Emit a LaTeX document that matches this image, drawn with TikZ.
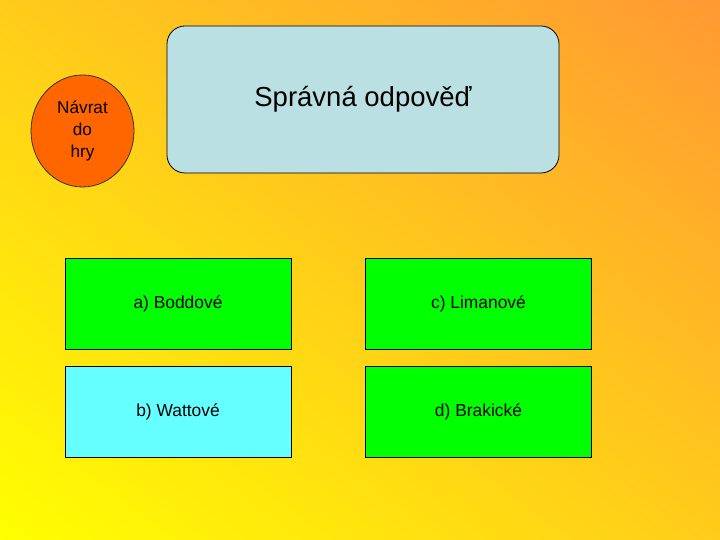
\documentclass[tikz,border=0pt]{standalone}
\usepackage{fontspec}
\setmainfont{Liberation Sans}
\usetikzlibrary{shapes.geometric,shadings}
\definecolor{bgTL}{HTML}{FFCC1A}
\definecolor{bgTR}{HTML}{FF9933}
\definecolor{bgBL}{HTML}{FFFF00}
\definecolor{bgBR}{HTML}{FFCC1A}
\definecolor{titlefill}{HTML}{BBE0E3}
\definecolor{greenfill}{HTML}{00FF00}
\definecolor{cyanfill}{HTML}{66FFFF}
\definecolor{orangefill}{HTML}{FF6600}
\tikzset{
  answerbox/.style={draw=black, line width=0.8pt, minimum width=226pt, minimum height=91pt, inner sep=0pt, font=\fontsize{17.4}{20}\selectfont},
}
\begin{document}
\begin{tikzpicture}[x=1pt,y=1pt]
\useasboundingbox (0,0) rectangle (720,540);
\shade[upper left=bgTL, upper right=bgTR, lower left=bgBL, lower right=bgBR] (0,0) rectangle (720,540);
\node[ellipse, draw=black!80, line width=0.8pt, fill=orangefill, minimum width=103pt, minimum height=112pt, inner sep=0pt, align=center, font=\fontsize{17.2}{22}\selectfont] (back) at (82.5,409) {Návrat\\do\\hry};
\node[draw=black, line width=0.8pt, fill=titlefill, rounded corners=18pt, minimum width=392pt, minimum height=147pt, inner sep=0pt, font=\fontsize{27.5}{30}\selectfont] (title) at (363,440.5) {\raisebox{-2pt}{Správná odpověď}};
\node[answerbox, fill=greenfill] (a) at (178,236.5) {a) Boddové};
\node[answerbox, fill=greenfill] (c) at (478.5,236.5) {c) Limanové};
\node[answerbox, fill=cyanfill] (b) at (178,128.5) {b) Wattové};
\node[answerbox, fill=greenfill] (d) at (478.5,128.5) {d) Brakické};
\end{tikzpicture}
\end{document}
